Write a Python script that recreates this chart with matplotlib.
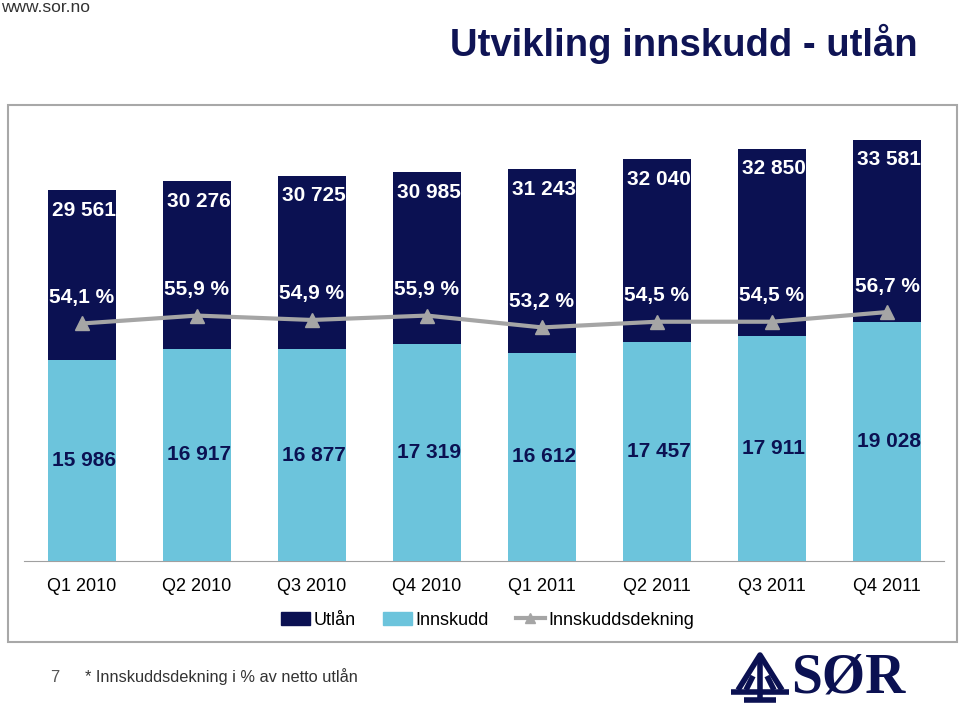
import matplotlib
matplotlib.use("Agg")
import matplotlib.pyplot as plt
from matplotlib.patches import Rectangle, Patch
from matplotlib.lines import Line2D

# data
quarters = ["Q1 2010", "Q2 2010", "Q3 2010", "Q4 2010",
            "Q1 2011", "Q2 2011", "Q3 2011", "Q4 2011"]
utlan = [29561, 30276, 30725, 30985, 31243, 32040, 32850, 33581]      # net lending
innskudd = [15986, 16917, 16877, 17319, 16612, 17457, 17911, 19028]   # deposits
dekning = [54.1, 55.9, 54.9, 55.9, 53.2, 54.5, 54.5, 56.7]            # deposit coverage, %

NAVY = "#0b1152"
LIGHT = "#6cc4dc"
GREY = "#a5a5a5"

plt.rcParams["font.family"] = ["Liberation Sans", "DejaVu Sans"]

fig = plt.figure(figsize=(9.6, 7.07), dpi=100)
ax = fig.add_axes([0.0255, 0.2065, 0.9583, 0.621])
x = list(range(len(quarters)))

ax.bar(x, utlan, width=0.59, color=NAVY, zorder=2)                   # loans behind
ax.bar(x, innskudd, width=0.59, color=LIGHT, zorder=3)               # deposits in front
ax.set_ylim(0, 35000)
ax.set_xlim(-0.5, len(quarters) - 0.5)

for xi, v in zip(x, utlan):                                           # "inside end" labels
    ax.annotate(f"{v:,}".replace(",", " "), (xi, v), xytext=(2, -20),
                textcoords="offset pixels", ha="center", va="center",
                color="white", fontsize=15, fontweight="bold", zorder=5)
for xi, v in zip(x, innskudd):                                        # centered labels
    ax.annotate(f"{v:,}".replace(",", " "), (xi, v / 2), xytext=(2, 0),
                textcoords="offset pixels", ha="center", va="center",
                color=NAVY, fontsize=15, fontweight="bold", zorder=5)

ax2 = ax.twinx()                                                      # coverage on hidden 0-100 axis
ax2.set_ylim(0, 100)
ax2.plot(x, dekning, color=GREY, lw=3, marker="^", ms=10, zorder=4)
for xi, v in zip(x, dekning):
    ax2.annotate(f"{v:.1f} %".replace(".", ","), (xi, v), xytext=(0, 26),
                 textcoords="offset pixels", ha="center", va="center",
                 color="white", fontsize=15, fontweight="bold")

for a in (ax, ax2):
    for s in ("top", "right", "left"):
        a.spines[s].set_visible(False)
    a.set_yticks([])
ax2.spines["bottom"].set_visible(False)
ax.spines["bottom"].set_color("#a0a0a0")
ax.set_xticks(x)
ax.set_xticklabels(quarters, fontsize=13)
ax.tick_params(axis="x", length=0, pad=12)

handles = [Patch(color=NAVY), Patch(color=LIGHT),
           Line2D([], [], color=GREY, lw=3, marker="^", ms=7)]
fig.legend(handles, ["Utlån", "Innskudd", "Innskuddsdekning"], loc="center",
           bbox_to_anchor=(0.508, 0.123), ncol=3, frameon=False, fontsize=13,
           handlelength=1.6, handleheight=0.7, handletextpad=0.2, columnspacing=1.5)

# slide frame and decorations
fig.add_artist(Rectangle((8 / 960, 1 - 642 / 707), 949 / 960, 537 / 707,
                         transform=fig.transFigure, fill=False,
                         edgecolor="#a8a8a8", lw=1.5))
fig.text(918 / 960, 1 - 44 / 707, "Utvikling innskudd - utlån", ha="right",
         va="center", fontsize=27.5, fontweight="bold", color="#0f1455")
fig.text(1 / 960, 1 - 8 / 707, "www.sor.no", ha="left", va="center",
         fontsize=12.5, color="#333333")
fig.text(55 / 960, 1 - 677 / 707, "7", ha="center", va="center",
         fontsize=12, color="#555555")
fig.text(85 / 960, 1 - 677 / 707, "* Innskuddsdekning i % av netto utlån",
         ha="left", va="center", fontsize=11.8, color="#333333")

# SØR logo: simple emblem + serif wordmark
fig.text(848 / 960, 1 - 678 / 707, "SØR", ha="center", va="center",
         fontsize=40, fontweight="bold", color=NAVY, family="Liberation Serif")
lx = lambda p: p / 960
ly = lambda p: 1 - p / 707
emblem = [
    ([731, 789], [692, 692]),
    ([744, 776], [700, 700]),
    ([760, 760], [655, 700]),
    ([738, 760, 782], [690, 655, 690]),
    ([746, 753], [690, 676]),
    ([774, 767], [690, 676]),
]
for xs, ys in emblem:
    fig.add_artist(Line2D([lx(p) for p in xs], [ly(p) for p in ys],
                          transform=fig.transFigure, color=NAVY, lw=4,
                          solid_capstyle="butt"))

fig.savefig("out.png", dpi=100)
